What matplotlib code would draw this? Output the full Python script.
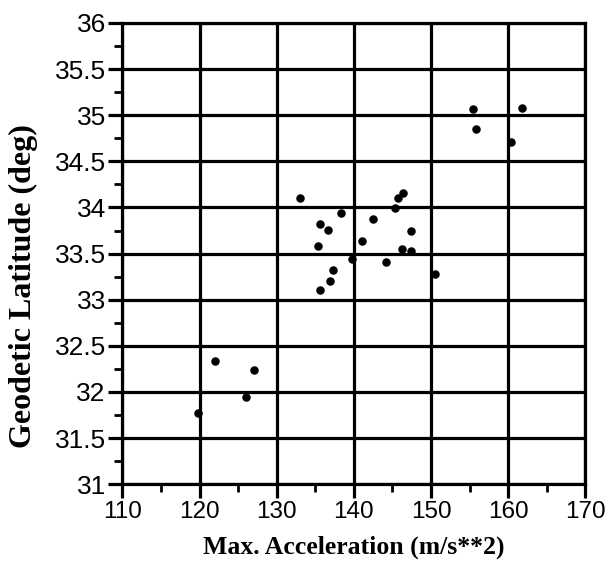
import matplotlib
matplotlib.use('Agg')
import matplotlib.pyplot as plt
import numpy as np

# max acceleration (m/s**2) and geodetic latitude (deg)
accel = [119.8, 122.0, 126.0, 127.1,
         133.0,
         135.3, 135.6, 135.6, 136.6, 136.9, 137.3, 138.4, 139.7,
         141.1, 142.5, 144.2, 145.3, 145.7, 146.3, 146.4, 147.4, 147.4, 150.5,
         155.4, 155.8, 160.4, 161.8]
lat = [31.77, 32.33, 31.94, 32.24,
       34.10,
       33.58, 33.82, 33.11, 33.76, 33.20, 33.32, 33.94, 33.44,
       33.64, 33.88, 33.41, 33.99, 34.10, 33.55, 34.16, 33.74, 33.53, 33.28,
       35.07, 34.85, 34.71, 35.08]

fig = plt.figure(figsize=(6.09, 5.75), dpi=100)
ax = fig.add_axes([0.201, 0.158, 0.76, 0.802])

ax.scatter(accel, lat, s=26, color='black', zorder=3, clip_on=False)

ax.set_xlim(110, 170)
ax.set_ylim(31, 36)
ax.set_xticks(np.arange(110, 171, 10))
ax.set_xticks(np.arange(115, 170, 10), minor=True)
ax.set_yticks(np.arange(31, 36.01, 0.5))
ax.set_yticks(np.arange(31.25, 36, 0.5), minor=True)
ax.set_yticklabels(['31', '31.5', '32', '32.5', '33', '33.5', '34', '34.5', '35', '35.5', '36'])

ax.grid(True, which='major', color='black', linewidth=2.3)
for s in ax.spines.values():
    s.set_linewidth(2.3)

ax.tick_params(which='major', direction='out', length=10, width=2.3, pad=2)
ax.tick_params(axis='x', labelsize=17.5)
ax.tick_params(axis='y', labelsize=19)
ax.tick_params(which='minor', direction='out', length=6, width=2)
for lab in ax.get_xticklabels() + ax.get_yticklabels():
    lab.set_family('Liberation Sans')

ax.set_xlabel('Max. Acceleration (m/s**2)', family='Liberation Serif',
              fontweight='bold', fontsize=18.5, labelpad=9)
ax.set_ylabel('Geodetic Latitude (deg)', family='Liberation Serif',
              fontweight='bold', fontsize=23)
ax.yaxis.set_label_coords(-0.182, 0.43)

fig.savefig('out.png', dpi=100)
